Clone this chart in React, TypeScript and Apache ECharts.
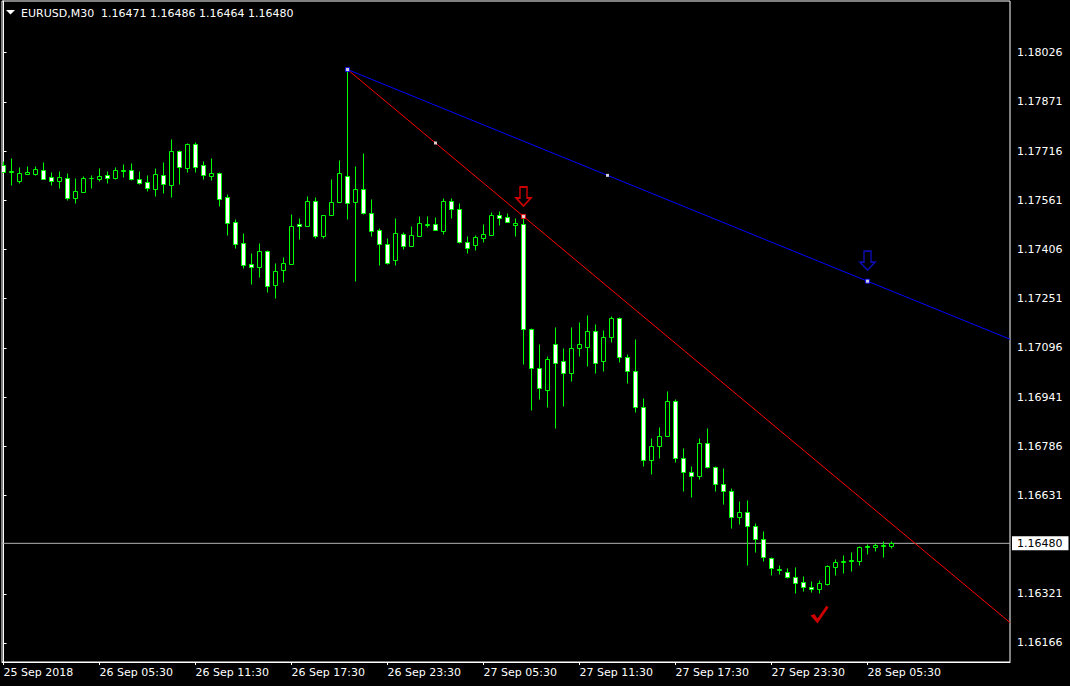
import React, { useEffect, useRef } from "react";
import * as echarts from "echarts";

// ---- Data (EURUSD M30 candles) ----
const opens = [
  1.17672, 1.17651, 1.17622, 1.17644, 1.17644, 1.17658, 1.17633, 1.17622, 1.1763, 1.17569,
  1.17588, 1.1763, 1.17628, 1.17642, 1.17631, 1.17654, 1.17655, 1.17627, 1.17618, 1.17597,
  1.17642, 1.17608, 1.17715, 1.17664, 1.17738, 1.17671, 1.17638, 1.17646, 1.1757, 1.17491,
  1.17425, 1.17359, 1.17351, 1.174, 1.17295, 1.17342, 1.17361, 1.17486, 1.1748, 1.1756,
  1.17449, 1.17515, 1.17556, 1.17636, 1.17556, 1.17595, 1.17521, 1.17466, 1.17422, 1.17373,
  1.17456, 1.17417, 1.1745, 1.17483, 1.17485, 1.17463, 1.1756, 1.17535, 1.17431, 1.17421,
  1.17443, 1.17452, 1.17516, 1.17507, 1.17484, 1.17486, 1.17154, 1.17031, 1.16964, 1.17107,
  1.17053, 1.17017, 1.17094, 1.17099, 1.17148, 1.17055, 1.17129, 1.1719, 1.17068, 1.17022,
  1.16911, 1.16741, 1.16786, 1.16817, 1.1693, 1.1675, 1.16704, 1.16691, 1.16795, 1.16721,
  1.16666, 1.16644, 1.16562, 1.16578, 1.16536, 1.16493, 1.16433, 1.16399, 1.16389, 1.16375,
  1.16358, 1.16341, 1.16335, 1.16353, 1.16404, 1.1642, 1.16425, 1.16425, 1.16468, 1.16467,
  1.16472, 1.16471,
];
const highs = [
  1.17684, 1.17694, 1.17665, 1.17668, 1.17668, 1.17681, 1.1765, 1.17653, 1.17647, 1.17631,
  1.17636, 1.1764, 1.17662, 1.17653, 1.17665, 1.17675, 1.17678, 1.17653, 1.1764, 1.17662,
  1.17681, 1.17754, 1.17721, 1.17741, 1.17744, 1.17684, 1.17694, 1.1765, 1.1758, 1.17502,
  1.17457, 1.17394, 1.17426, 1.17404, 1.17363, 1.17382, 1.17517, 1.17505, 1.17574, 1.17571,
  1.17516, 1.17628, 1.17687, 1.17973, 1.17668, 1.17709, 1.17564, 1.17475, 1.17441, 1.17504,
  1.1746, 1.17479, 1.17511, 1.17511, 1.17508, 1.17567, 1.17567, 1.17551, 1.17447, 1.17453,
  1.17486, 1.17523, 1.17527, 1.1752, 1.17504, 1.1751, 1.17157, 1.17108, 1.1707, 1.17161,
  1.17094, 1.17161, 1.17177, 1.17199, 1.17171, 1.17152, 1.17196, 1.17193, 1.17076, 1.17124,
  1.16938, 1.16811, 1.16845, 1.1696, 1.16934, 1.16779, 1.16723, 1.16811, 1.16842, 1.16724,
  1.16717, 1.16654, 1.16613, 1.16616, 1.16545, 1.16519, 1.16436, 1.16411, 1.16402, 1.16405,
  1.16377, 1.16361, 1.16364, 1.16412, 1.16431, 1.16443, 1.16453, 1.16471, 1.16479, 1.1648,
  1.16487, 1.16486,
];
const lows = [
  1.1765, 1.17609, 1.17616, 1.17644, 1.1764, 1.17628, 1.17609, 1.17599, 1.17561, 1.17553,
  1.17588, 1.176, 1.17621, 1.17616, 1.17628, 1.17634, 1.17625, 1.17612, 1.17591, 1.17575,
  1.17584, 1.17572, 1.17612, 1.1765, 1.1765, 1.17628, 1.17624, 1.17543, 1.17451, 1.17411,
  1.17347, 1.17297, 1.17319, 1.17272, 1.17253, 1.17303, 1.17361, 1.17439, 1.1748, 1.17443,
  1.17443, 1.17515, 1.17556, 1.17502, 1.17307, 1.17519, 1.17449, 1.17358, 1.1736, 1.17358,
  1.17408, 1.17417, 1.1745, 1.17476, 1.17466, 1.17455, 1.17504, 1.17427, 1.17395, 1.17405,
  1.1743, 1.17452, 1.17483, 1.17491, 1.17449, 1.17046, 1.169, 1.16935, 1.1691, 1.16844,
  1.16913, 1.16992, 1.17071, 1.17039, 1.17017, 1.17024, 1.17115, 1.17052, 1.16986, 1.16895,
  1.16724, 1.16699, 1.1675, 1.16817, 1.16737, 1.16646, 1.16627, 1.16684, 1.16718, 1.16646,
  1.16605, 1.16529, 1.16541, 1.16413, 1.16454, 1.16425, 1.16381, 1.16382, 1.16372, 1.16324,
  1.16331, 1.16328, 1.16324, 1.1635, 1.1638, 1.16387, 1.16393, 1.16412, 1.16447, 1.16457,
  1.16438, 1.16464,
];
const closes = [
  1.17651, 1.17654, 1.17646, 1.17649, 1.17661, 1.17628, 1.17622, 1.17633, 1.17569, 1.17589,
  1.1763, 1.17631, 1.17639, 1.17632, 1.17658, 1.17658, 1.17628, 1.17616, 1.17601, 1.17643,
  1.17611, 1.17715, 1.17666, 1.17738, 1.17666, 1.17641, 1.17646, 1.17565, 1.1749, 1.17424,
  1.17358, 1.17351, 1.174, 1.17291, 1.17337, 1.17362, 1.17479, 1.17479, 1.1756, 1.17449,
  1.17516, 1.17557, 1.17646, 1.17553, 1.17595, 1.17521, 1.17463, 1.17422, 1.17362, 1.17457,
  1.17417, 1.17453, 1.17489, 1.17486, 1.17466, 1.1756, 1.17535, 1.17431, 1.17412, 1.17444,
  1.17456, 1.17516, 1.17504, 1.17491, 1.17488, 1.17154, 1.17031, 1.16968, 1.1706, 1.17049,
  1.17017, 1.17094, 1.17107, 1.17148, 1.17049, 1.17129, 1.1719, 1.17068, 1.17024, 1.16911,
  1.16741, 1.16786, 1.16817, 1.1693, 1.1675, 1.16704, 1.16691, 1.16795, 1.16721, 1.16666,
  1.16644, 1.16562, 1.16578, 1.16536, 1.16493, 1.16436, 1.16401, 1.16397, 1.16375, 1.16354,
  1.16341, 1.16335, 1.16354, 1.16409, 1.16421, 1.16423, 1.16428, 1.16467, 1.16471, 1.16475,
  1.16474, 1.1648,
];

const timeTickBars = [0, 12, 24, 36, 48, 60, 72, 84, 96, 108];
const timeTickLabels = [
  "25 Sep 2018", "26 Sep 05:30", "26 Sep 11:30", "26 Sep 17:30", "26 Sep 23:30",
  "27 Sep 05:30", "27 Sep 11:30", "27 Sep 17:30", "27 Sep 23:30", "28 Sep 05:30",
];
const priceTicks = [
  1.18026, 1.17871, 1.17716, 1.17561, 1.17406, 1.17251, 1.17096,
  1.16941, 1.16786, 1.16631, 1.16321, 1.16166,
];
const currentPrice = 1.1648;
const headerSymbol = "EURUSD,M30";
const headerOHLC = [1.16471, 1.16486, 1.16464, 1.1648];

// drawing objects: [bar index, price]
const redTrend = [[43, 1.17973], [65, 1.1751]];
const blueTrend = [[43, 1.17973], [108, 1.17306]];
const redArrow = [65, 1.17573];
const blueArrow = [108, 1.17371];
const checkMark = [102, 1.16256];

// ---- Layout ----
const X_MIN = -0.1875;
const X_MAX = 125.8125;
const Y_MIN = 1.16106;
const Y_MAX = 1.18189;
const FONT = "DejaVu Sans";

function rayEnd(a: number[], b: number[], xEnd: number) {
  return [xEnd, a[1] + ((b[1] - a[1]) * (xEnd - a[0])) / (b[0] - a[0])];
}
function mid(a: number[], b: number[]) {
  return [(a[0] + b[0]) / 2, (a[1] + b[1]) / 2];
}

export default function App() {
  const ref = useRef<HTMLDivElement>(null);
  useEffect(() => {
    if (!ref.current) return;
    const chart = echarts.init(ref.current, null, { renderer: "svg" });
    const candles = opens.map((o, i) => [i, o, closes[i], lows[i], highs[i]]);

    const arrowPath = "path://M4,0 L11,0 L11,11 L15,11 L7.5,19 L0,11 L4,11 Z";
    const checkPath = "path://M0,10 L4,8.5 L7,13 L16,0 L18,2 L7,18 Z";

    chart.setOption({
      animation: false,
      backgroundColor: "#000",
      grid: {
        left: 2,
        top: 1,
        width: 1008,
        height: 661,
        show: true,
        borderColor: "#fff",
        borderWidth: 1,
        backgroundColor: "#000",
      },
      xAxis: {
        type: "value",
        min: X_MIN,
        max: X_MAX,
        axisLine: { show: true, lineStyle: { color: "#fff", width: 1 } },
        splitLine: { show: false },
        axisTick: {
          show: true,
          length: 3,
          customValues: timeTickBars,
          lineStyle: { color: "#fff" },
        },
        axisLabel: {
          customValues: timeTickBars,
          formatter: (v: number) => timeTickLabels[timeTickBars.indexOf(Math.round(v))] || "",
          align: "left",
          color: "#fff",
          fontFamily: FONT,
          fontSize: 11,
          margin: 5,
        },
      },
      yAxis: {
        type: "value",
        position: "right",
        min: Y_MIN,
        max: Y_MAX,
        axisLine: { show: true, lineStyle: { color: "#fff", width: 1 } },
        splitLine: { show: false },
        axisTick: {
          show: true,
          length: 3,
          customValues: priceTicks,
          lineStyle: { color: "#fff" },
        },
        axisLabel: {
          customValues: priceTicks,
          formatter: (v: number) => v.toFixed(5),
          color: "#fff",
          fontFamily: FONT,
          fontSize: 11,
          margin: 7,
        },
      },
      graphic: [
        {
          type: "polygon",
          shape: { points: [[6, 10], [15, 10], [10.5, 14.5]] },
          style: { fill: "#fff" },
        },
        {
          type: "text",
          x: 21,
          y: 13,
          style: {
            text: headerSymbol,
            fill: "#fff",
            font: `11px "${FONT}"`,
            verticalAlign: "middle",
          },
        },
        {
          type: "text",
          x: 101,
          y: 13,
          style: {
            text: headerOHLC.map((v) => v.toFixed(5)).join(" "),
            fill: "#fff",
            font: `11px "${FONT}"`,
            verticalAlign: "middle",
          },
        },
      ],
      series: [
        {
          type: "line",
          data: [
            [X_MIN, currentPrice],
            [X_MAX, currentPrice],
          ],
          symbol: "none",
          lineStyle: { color: "#b4b4b4", width: 1 },
          silent: true,
          clip: false,
          z: 1,
          endLabel: {
            show: true,
            distance: 2,
            formatter: () => currentPrice.toFixed(5),
            backgroundColor: "#fff",
            color: "#000",
            fontFamily: FONT,
            fontSize: 11,
            padding: [2, 6, 1, 5],
          },
        },
        {
          type: "line",
          data: [redTrend[0], rayEnd(redTrend[0], redTrend[1], X_MAX)],
          symbol: "none",
          lineStyle: { color: "#ff0000", width: 1 },
          silent: true,
          z: 3,
        },
        {
          type: "line",
          data: [blueTrend[0], rayEnd(blueTrend[0], blueTrend[1], X_MAX)],
          symbol: "none",
          lineStyle: { color: "#0000ff", width: 1 },
          silent: true,
          z: 3,
        },
        {
          type: "custom",
          clip: true,
          z: 2,
          data: candles,
          encode: { x: 0, y: [1, 2, 3, 4] },
          renderItem: (params: any, api: any) => {
            const x = api.value(0);
            const o = api.value(1);
            const c = api.value(2);
            const l = api.value(3);
            const h = api.value(4);
            const pO = api.coord([x, o]);
            const pC = api.coord([x, c]);
            const pL = api.coord([x, l]);
            const pH = api.coord([x, h]);
            const cx = Math.floor(pO[0]) + 0.5;
            const top = Math.round(Math.min(pO[1], pC[1])) + 0.5;
            const bot = Math.round(Math.max(pO[1], pC[1])) + 0.5;
            const hy = Math.round(pH[1]) + 0.5;
            const ly = Math.round(pL[1]) + 0.5;
            const bull = c >= o;
            return {
              type: "group",
              children: [
                {
                  type: "line",
                  shape: { x1: cx, y1: hy, x2: cx, y2: ly },
                  style: { stroke: "#00ff00", lineWidth: 1 },
                },
                {
                  type: "rect",
                  shape: { x: cx - 2, y: top, width: 4, height: Math.max(0, bot - top) },
                  style: { fill: bull ? "#000" : "#fff", stroke: "#00ff00", lineWidth: 1 },
                },
              ],
            };
          },
        },
        {
          type: "scatter",
          silent: true,
          z: 5,
          data: [
            { value: redTrend[0], symbol: "rect", symbolSize: 4, itemStyle: { color: "#fff", borderColor: "#0000ff", borderWidth: 1 } },
            { value: mid(redTrend[0], redTrend[1]), symbol: "rect", symbolSize: 3, itemStyle: { color: "#fff" } },
            { value: redTrend[1], symbol: "rect", symbolSize: 4, itemStyle: { color: "#fff", borderColor: "#ff0000", borderWidth: 1 } },
            { value: mid(blueTrend[0], blueTrend[1]), symbol: "rect", symbolSize: 3, itemStyle: { color: "#fff" } },
            { value: blueTrend[1], symbol: "rect", symbolSize: 4, itemStyle: { color: "#fff", borderColor: "#0000ff", borderWidth: 1 } },
          ],
        },
        {
          type: "scatter",
          silent: true,
          z: 5,
          data: [
            {
              value: redArrow,
              symbol: arrowPath,
              symbolSize: [15, 19],
              itemStyle: { color: "rgba(0,0,0,0)", borderColor: "#ff0000", borderWidth: 1.6 },
            },
            {
              value: blueArrow,
              symbol: arrowPath,
              symbolSize: [15, 19],
              itemStyle: { color: "rgba(0,0,0,0)", borderColor: "#1010d8", borderWidth: 1.6 },
            },
            {
              value: checkMark,
              symbol: checkPath,
              symbolSize: [18, 18],
              itemStyle: { color: "#ff0000" },
            },
          ],
        },
      ],
    });
    return () => chart.dispose();
  }, []);

  return (
    <div
      ref={ref}
      style={{ position: "fixed", left: 0, top: 0, width: 1070, height: 686, background: "#000" }}
    />
  );
}
